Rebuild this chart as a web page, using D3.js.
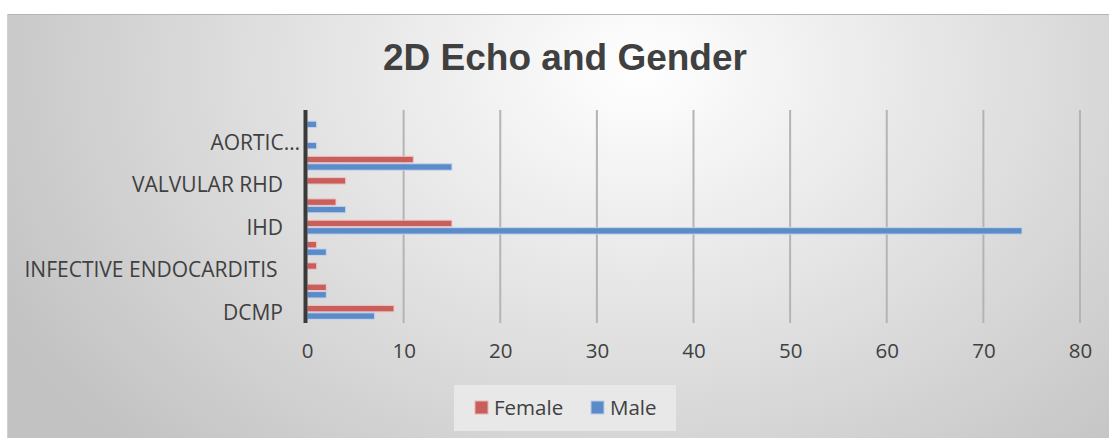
<!DOCTYPE html>
<html>
<head>
<meta charset="utf-8">
<script src="https://cdn.jsdelivr.net/npm/d3@7"></script>
<style>
  html, body { margin: 0; padding: 0; background: #ffffff; overflow: hidden; }
  svg { display: block; }
  text { white-space: pre; }
</style>
</head>
<body>
<svg id="chart" width="1109" height="438"></svg>
<script>
// ---- data ----
const categories = ["DCMP", "HCM", "INFECTIVE ENDOCARDITIS", "CONGENITAL", "IHD", "NORMAL", "VALVULAR RHD", "MITRAL", "AORTIC…", "PERICARDIAL"];
const shownLabels = ["DCMP", "", "INFECTIVE ENDOCARDITIS ", "", "IHD", "", "VALVULAR RHD", "", "AORTIC…", ""];
const female = [9, 2, 1, 1, 15, 3, 4, 11, 0, 0];
const male   = [7, 2, 0, 2, 74, 4, 0, 15, 1, 1];
const seriesNames = ["Female", "Male"];
const seriesColors = ["#c95f5c", "#5b8bc8"];
const xTicks = [0, 10, 20, 30, 40, 50, 60, 70, 80];
const title = "2D Echo and Gender";

// ---- layout ----
const svg = d3.select("#chart");
const W = 1109, H = 438;
const plot = { left: 307, right: 1080, top: 110, bottom: 323 };

const defs = svg.append("defs");
const grad = defs.append("radialGradient")
  .attr("id", "bg").attr("gradientUnits", "userSpaceOnUse")
  .attr("cx", 640).attr("cy", 70).attr("r", 720)
  .attr("gradientTransform", "translate(640,70) scale(1,0.75) translate(-640,-70)");
grad.append("stop").attr("offset", "0%").attr("stop-color", "#ffffff");
grad.append("stop").attr("offset", "100%").attr("stop-color", "#c2c2c2");

svg.append("rect").attr("x", 7).attr("y", 14).attr("width", W).attr("height", H)
  .attr("fill", "url(#bg)");
svg.append("line").attr("x1", 7).attr("x2", W).attr("y1", 14.5).attr("y2", 14.5)
  .attr("stroke", "#b5b5b5").attr("stroke-width", 1);
svg.append("line").attr("x1", 7.5).attr("x2", 7.5).attr("y1", 14).attr("y2", H)
  .attr("stroke", "#d0d0d0").attr("stroke-width", 1);

// title
svg.append("text").attr("x", 565).attr("y", 70)
  .attr("text-anchor", "middle")
  .attr("font-family", "'Liberation Sans', Arial, sans-serif")
  .attr("font-weight", "bold").attr("font-size", 37)
  .attr("fill", "#404040").text(title);

// scales
const x = d3.scaleLinear().domain([0, 80]).range([plot.left, plot.right]);
const y = d3.scaleBand().domain(categories).range([plot.bottom, plot.top])
  .paddingInner(0.3).paddingOuter(0.15);
const ySub = d3.scaleBand().domain(seriesNames).range([0, y.bandwidth()]);

// gridlines
svg.append("g").selectAll("line").data(xTicks.filter(d => d > 0)).join("line")
  .attr("x1", d => x(d)).attr("x2", d => x(d))
  .attr("y1", plot.top).attr("y2", plot.bottom)
  .attr("stroke", "#b4b4b4").attr("stroke-width", 2);

// bars
const data = categories.map((c, i) => ({ cat: c, vals: [female[i], male[i]] }));
const groups = svg.append("g").selectAll("g").data(data).join("g")
  .attr("transform", d => `translate(0,${y(d.cat)})`);
groups.selectAll("rect").data(d => d.vals.map((v, k) => ({ v, k })).filter(e => e.v > 0)).join("rect")
  .attr("x", x(0))
  .attr("y", d => ySub(seriesNames[d.k]) + 0.5)
  .attr("width", d => x(d.v) - x(0))
  .attr("height", ySub.bandwidth() - 1)
  .attr("fill", d => seriesColors[d.k])
  .attr("stroke", d => d.k === 0 ? "#f0c4c3" : "#c6d6ec")
  .attr("stroke-width", 1);

// vertical axis line
svg.append("line").attr("x1", x(0) - 1.5).attr("x2", x(0) - 1.5)
  .attr("y1", plot.top).attr("y2", plot.bottom)
  .attr("stroke", "#3a3a3a").attr("stroke-width", 4);

// x tick labels
const xAxis = d3.axisBottom(x).tickValues(xTicks).tickSize(0).tickPadding(0);
const xg = svg.append("g").attr("transform", `translate(0,${plot.bottom + 20})`).call(xAxis);
xg.select(".domain").remove();
xg.selectAll("text")
  .attr("font-family", "'Open Sans', sans-serif").attr("font-size", 20.5)
  .attr("fill", "#404040").attr("dy", "0.71em");

// y category labels
const yAxis = d3.axisLeft(y).tickSize(0).tickPadding(0).tickFormat((d, i) => shownLabels[i]);
const yg = svg.append("g").attr("transform", `translate(${plot.left - 24},0)`).call(yAxis);
yg.select(".domain").remove();
yg.selectAll("text")
  .attr("font-family", "'Open Sans', sans-serif").attr("font-size", 21)
  .attr("fill", "#404040").attr("dy", "0.36em")
  .attr("dx", (d, i) => shownLabels[i] === "AORTIC…" ? 17 : 0);

// legend
const lg = svg.append("g");
lg.append("rect").attr("x", 454).attr("y", 385).attr("width", 222).attr("height", 46)
  .attr("fill", "#e8e8e8");
const legX = [475, 591];
seriesNames.forEach((s, k) => {
  lg.append("rect").attr("x", legX[k]).attr("y", 401).attr("width", 13).attr("height", 13)
    .attr("fill", seriesColors[k])
    .attr("stroke", k === 0 ? "#eab4b3" : "#bccfe9").attr("stroke-width", 1);
  lg.append("text").attr("x", legX[k] + 19).attr("y", 415)
    .attr("font-family", "'Open Sans', sans-serif").attr("font-size", 20.5)
    .attr("fill", "#404040").text(s);
});
</script>
</body>
</html>
